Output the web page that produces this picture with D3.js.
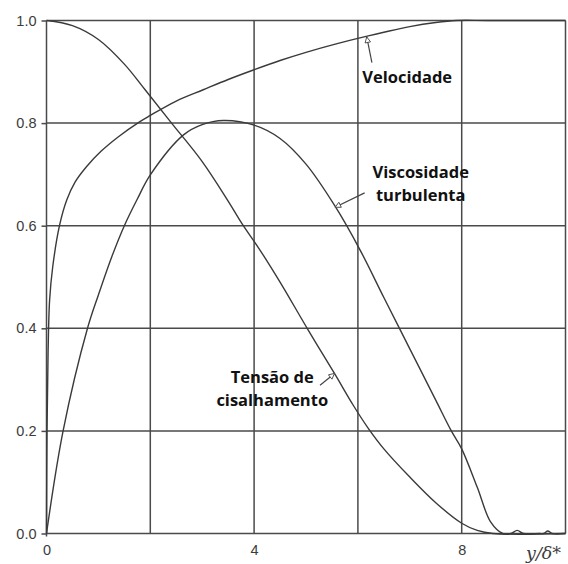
<!DOCTYPE html>
<html>
<head>
<meta charset="utf-8">
<script src="https://cdn.jsdelivr.net/npm/d3@7"></script>
<style>
  html, body { margin: 0; padding: 0; background: #fff; }
  svg { display: block; }
  .tick text { font-family: "Liberation Sans", Arial, sans-serif; font-size: 14.5px; fill: #3c3c3c; }
  .note { font-family: "Open Sans", "Noto Sans", sans-serif; font-weight: 700; font-size: 16.5px; fill: #111; }
</style>
</head>
<body>
<svg id="chart" width="568" height="564"></svg>
<script>
// Boundary-layer profiles against y/δ*
const xGrid = [0, 2, 4, 6, 8, 10];
const xLabelTicks = [0, 4, 8];
const yTicks = [0, 0.2, 0.4, 0.6, 0.8, 1.0];

// Velocity profile
const velX = [0, 0.01, 0.03, 0.06, 0.12, 0.25, 0.39, 0.55, 0.77, 1.05, 1.38, 1.8, 2.0, 2.5, 3.02, 3.5, 4.0, 4.5, 5.0, 5.6, 6.2, 6.5, 7.0, 7.5, 7.9, 8.5, 10];
const velY = [0, 0.2, 0.35, 0.455, 0.52, 0.6, 0.65, 0.685, 0.715, 0.745, 0.773, 0.803, 0.815, 0.843, 0.865, 0.885, 0.904, 0.922, 0.938, 0.955, 0.97, 0.977, 0.988, 0.996, 1.0, 1.0, 1.0];

// Shear stress profile
const shearX = [0, 0.5, 1.0, 1.5, 1.9, 2.41, 3.0, 3.5, 3.76, 4.11, 4.5, 5.04, 5.56, 5.91, 6.2, 6.5, 7.0, 7.5, 8.0, 8.3, 8.6, 10];
const shearY = [1.0, 0.99, 0.963, 0.915, 0.865, 0.8, 0.725, 0.648, 0.605, 0.553, 0.49, 0.397, 0.31, 0.25, 0.205, 0.165, 0.11, 0.06, 0.02, 0.006, 0, 0];

// Eddy viscosity profile
const viscX = [0, 0.32, 0.79, 1.0, 1.26, 1.5, 1.75, 2.0, 2.64, 3.0, 3.41, 4.0, 4.5, 5.0, 5.56, 6.04, 6.5, 7.0, 7.5, 7.8, 8.0, 8.3, 8.56, 8.79, 8.95, 9.07, 9.19, 9.5, 9.58, 9.66, 9.74, 10];
const viscY = [0, 0.2, 0.4, 0.465, 0.54, 0.6, 0.652, 0.699, 0.777, 0.797, 0.805, 0.796, 0.77, 0.72, 0.638, 0.553, 0.46, 0.36, 0.26, 0.2, 0.165, 0.09, 0.022, 0, 0, 0.006, 0, 0, 0, 0.005, 0, 0];

// Curve captions: text lines, label anchor and arrow (tail -> tip), in data units
const notes = [
  { lines: ["Velocidade"], at: [6.95, 0.879], tail: [6.27, 0.918], tip: [6.17, 0.968] },
  { lines: ["Viscosidade", "turbulenta"], at: [7.21, 0.693], tail: [6.13, 0.664], tip: [5.56, 0.636] },
  { lines: ["Tensão de", "cisalhamento"], at: [4.35, 0.294], tail: [5.27, 0.289], tip: [5.55, 0.312] }
];

const svg = d3.select("#chart");
const x = d3.scaleLinear().domain([0, 10]).range([46.5, 565.5]);
const y = d3.scaleLinear().domain([0, 1]).range([533.5, 20.5]);

const gridColor = "#4a4a4a";
const lineColor = "#3a3a3a";

// grid
const grid = svg.append("g").attr("stroke", gridColor).attr("stroke-width", 1.5).attr("fill", "none");
grid.selectAll("line.v").data(xGrid).join("line")
  .attr("class", "v")
  .attr("x1", d => x(d)).attr("x2", d => x(d))
  .attr("y1", y(1)).attr("y2", d => d === 0 ? y(0) + 3 : y(0));
grid.selectAll("line.h").data(yTicks).join("line")
  .attr("class", "h")
  .attr("x1", x(0)).attr("x2", x(10))
  .attr("y1", d => y(d)).attr("y2", d => y(d));

// axes
const yAxis = d3.axisLeft(y).tickValues(yTicks).tickFormat(d3.format(".1f")).tickSize(5).tickPadding(5);
const gy = svg.append("g").attr("transform", `translate(${x(0)},0)`).call(yAxis);
gy.select(".domain").remove();
gy.selectAll(".tick line").attr("stroke", gridColor).attr("stroke-width", 1.5);

const xAxis = d3.axisBottom(x).tickValues(xLabelTicks).tickFormat(d3.format("d")).tickSize(0).tickPadding(11);
const gx = svg.append("g").attr("transform", `translate(0,${y(0)})`).call(xAxis);
gx.select(".domain").remove();

svg.append("text")
  .attr("x", 526).attr("y", 559)
  .attr("font-family", "'DejaVu Serif', 'Liberation Serif', serif")
  .attr("font-style", "italic")
  .attr("font-size", 17.5)
  .attr("fill", "#3c3c3c")
  .text("y/δ*");

// curves
const line = d3.line().x(d => x(d[0])).y(d => y(d[1])).curve(d3.curveCatmullRom.alpha(0.5));
const series = [
  d3.zip(velX, velY),
  d3.zip(shearX, shearY),
  d3.zip(viscX, viscY)
];
svg.append("g").selectAll("path").data(series).join("path")
  .attr("d", line)
  .attr("fill", "none")
  .attr("stroke", lineColor)
  .attr("stroke-width", 1.4);

// open arrowheads for captions
svg.append("defs").append("marker")
  .attr("id", "tri")
  .attr("viewBox", "0 0 10 10")
  .attr("refX", 9).attr("refY", 5)
  .attr("markerWidth", 8).attr("markerHeight", 7)
  .attr("markerUnits", "userSpaceOnUse")
  .attr("orient", "auto")
  .append("path")
  .attr("d", "M1,1 L9,5 L1,9 Z")
  .attr("fill", "#fff")
  .attr("stroke", "#444")
  .attr("stroke-width", 1.2);

const ng = svg.append("g");
ng.selectAll("line").data(notes).join("line")
  .attr("x1", d => x(d.tail[0])).attr("y1", d => y(d.tail[1]))
  .attr("x2", d => x(d.tip[0])).attr("y2", d => y(d.tip[1]))
  .attr("stroke", "#444").attr("stroke-width", 1.2)
  .attr("marker-end", "url(#tri)");

notes.forEach(n => {
  const t = ng.append("text").attr("class", "note").attr("text-anchor", "middle");
  n.lines.forEach((s, i) => {
    t.append("tspan").attr("x", x(n.at[0])).attr("y", y(n.at[1]) + i * 23.5).text(s);
  });
});
</script>
</body>
</html>
